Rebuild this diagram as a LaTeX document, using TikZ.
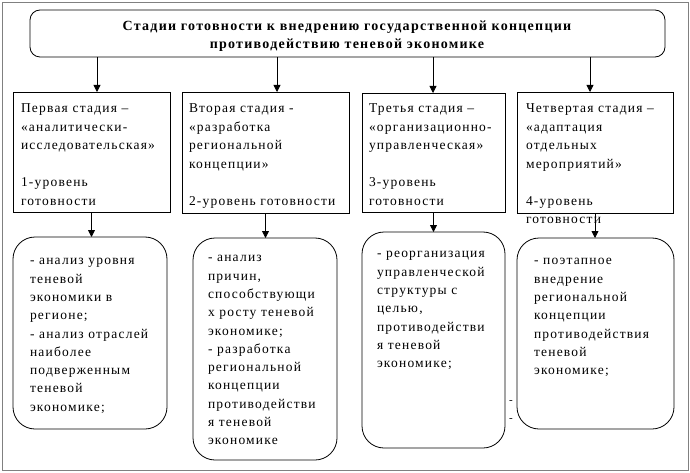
\documentclass[tikz,border=0pt]{standalone}
\usepackage{fontspec}
\setmainfont{Liberation Serif}[LetterSpace=9]
\usetikzlibrary{arrows.meta}
\begin{document}
\begin{tikzpicture}[x=1pt,y=-1pt,
  every node/.style={inner sep=0pt, outer sep=0pt},
  frame/.style={draw=black, line width=0.8pt},
  sqbox/.style={frame, rectangle, anchor=north west},
  rbox/.style={frame, rectangle, rounded corners=22pt, anchor=north west},
  tbox/.style={frame, rectangle, rounded corners=10pt, anchor=north west},
  txt/.style={anchor=north west, align=left, font=\fontsize{13.5}{18.5}\selectfont},
  btxt/.style={anchor=north west, align=left, font=\fontsize{13.5}{18.3}\selectfont},
  ttl/.style={anchor=north, align=center, font=\bfseries\fontsize{14}{17.5}\selectfont},
  arr/.style={draw=black, line width=0.8pt, -{Triangle[width=7pt,length=7pt]}}
]
\useasboundingbox (0,0) rectangle (690,473);
\draw[draw=gray, line width=0.8pt] (2,2) rectangle (688,470);

% title
\node[tbox, minimum width=635pt, minimum height=47pt] (title) at (30,10) {};
\node[ttl] (titletxt) at (347,18.5) {\strut Стадии готовности к внедрению государственной концепции\\противодействию теневой экономике};

% stage boxes
\node[sqbox, minimum width=157pt, minimum height=120pt] (s1) at (13,92) {};
\node[sqbox, minimum width=167pt, minimum height=121pt] (s2) at (182,92) {};
\node[sqbox, minimum width=143pt, minimum height=119pt] (s3) at (362,93) {};
\node[sqbox, minimum width=156pt, minimum height=121pt] (s4) at (517,92) {};

\node[txt] (t1) at (21,100) {\strut Первая стадия –\\«аналитически-\\исследовательская»\\ \\1-уровень\\готовности};
\node[txt] (t2) at (189,100) {\strut Вторая стадия -\\«разработка\\региональной\\концепции»\\ \\2-уровень готовности};
\node[txt] (t3) at (369,100) {\strut Третья стадия –\\«организационно-\\управленческая»\\ \\3-уровень\\готовности};
\node[txt] (t4) at (526,100) {\strut Четвертая стадия –\\«адаптация\\отдельных\\мероприятий»\\ \\4-уровень\\готовности};

% bottom boxes
\node[rbox, minimum width=154pt, minimum height=192pt] (b1) at (13,237) {};
\node[rbox, minimum width=144pt, minimum height=222pt] (b2) at (193,238) {};
\node[rbox, minimum width=143pt, minimum height=216pt] (b3) at (362,232) {};
\node[rbox, minimum width=157pt, minimum height=191pt] (b4) at (517,238) {};

\node[btxt] (u1) at (30,252) {\strut - анализ уровня\\теневой\\экономики в\\регионе;\\- анализ отраслей\\наиболее\\подверженным\\теневой\\экономике;};
\node[btxt] (u2) at (208,249) {\strut - анализ\\причин,\\способствующи\\х росту теневой\\экономике;\\- разработка\\региональной\\концепции\\противодействи\\я теневой\\экономике};
\node[btxt] (u3) at (377,245) {\strut - реорганизация\\управленческой\\структуры с\\целью,\\противодействи\\я теневой\\экономике;};
\node[btxt] (u4) at (534,252) {\strut - поэтапное\\внедрение\\региональной\\концепции\\противодействия\\теневой\\экономике;};

\node[font=\fontsize{11}{11}\selectfont] (d1) at (511,402) {-};
\node[font=\fontsize{11}{11}\selectfont] (d2) at (511,420) {-};

% arrows title -> stages
\draw[arr] ([xshift=5.5pt]s1.north |- title.south) -- ([xshift=5.5pt]s1.north);
\draw[arr] ([xshift=11.5pt]s2.north |- title.south) -- ([xshift=11.5pt]s2.north);
\draw[arr] ([xshift=-0.5pt]s3.north |- title.south) -- ([xshift=-0.5pt]s3.north);
\draw[arr] ([xshift=-5pt]s4.north |- title.south) -- ([xshift=-5pt]s4.north);

% arrows stages -> bottom boxes
\draw[arr] (s1.south) -- (s1.south |- b1.north);
\draw[arr] (s2.south) -- (s2.south |- b2.north);
\draw[arr] (s3.south) -- (s3.south |- b3.north);
\draw[arr] (s4.south) -- (s4.south |- b4.north);
\end{tikzpicture}
\end{document}
